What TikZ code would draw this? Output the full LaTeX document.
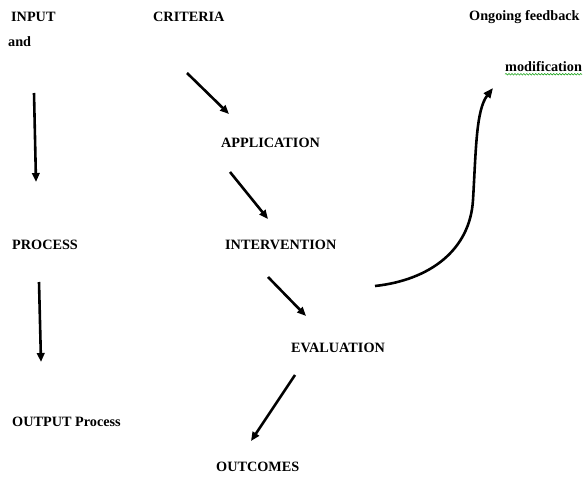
\documentclass[tikz,border=0pt]{standalone}
\usepackage{fontspec}
\setmainfont{Liberation Serif}
\usetikzlibrary{arrows.meta,decorations.pathmorphing}
\begin{document}
\begin{tikzpicture}[x=1bp,y=-1bp,
  lbl/.style={anchor=west,inner sep=0pt,font=\fontsize{14.3}{16}\selectfont\bfseries},
  arr/.style={line width=2.6pt,-{Triangle[length=9pt,width=7.5pt]}}]
\useasboundingbox[fill=white] (0,0) rectangle (586,478);
\node[lbl] (input) at (11,17) {INPUT};
\node[lbl] (and) at (8,42) {and};
\node[lbl] (criteria) at (153,17) {CRITERIA};
\node[lbl] (ongoing) at (469,17) {Ongoing feedback};
\node[lbl] (modif) at (505,67) {modification};
\node[lbl] (application) at (221,143) {APPLICATION};
\node[lbl] (process) at (12,245) {PROCESS};
\node[lbl] (intervention) at (225,245) {INTERVENTION};
\node[lbl] (evaluation) at (291,348) {EVALUATION};
\node[lbl] (output) at (12,422) {OUTPUT Process};
\node[lbl] (outcomes) at (216,467) {OUTCOMES};
\draw[green!60!black,line width=0.5pt,decorate,decoration={snake,amplitude=0.8pt,segment length=3pt}]
  ([yshift=-2pt]modif.south west) -- ([yshift=-2pt]modif.south east);
% arrow end points
\coordinate (a1s) at (34,93);  \coordinate (a1e) at (36,182);
\coordinate (a2s) at (39,282); \coordinate (a2e) at (41,362);
\coordinate (a3s) at (187,73); \coordinate (a3e) at (229,114);
\coordinate (a4s) at (230,172); \coordinate (a4e) at (268,219);
\coordinate (a5s) at (268,277); \coordinate (a5e) at (306,316);
\coordinate (a6s) at (295,375); \coordinate (a6e) at (251,441);
\coordinate (fbs) at (375,286); \coordinate (fbe) at (493,88);
\draw[arr] (a1s) -- (a1e);
\draw[arr] (a2s) -- (a2e);
\draw[arr] (a3s) -- (a3e);
\draw[arr] (a4s) -- (a4e);
\draw[arr] (a5s) -- (a5e);
\draw[arr] (a6s) -- (a6e);
\draw[line width=2.6pt,-{Triangle[length=10pt,width=8pt]}]
  (fbs) .. controls (430,280) and (470,250) .. (473,200)
        .. controls (476,150) and (476,110) .. (fbe);
\end{tikzpicture}
\end{document}
